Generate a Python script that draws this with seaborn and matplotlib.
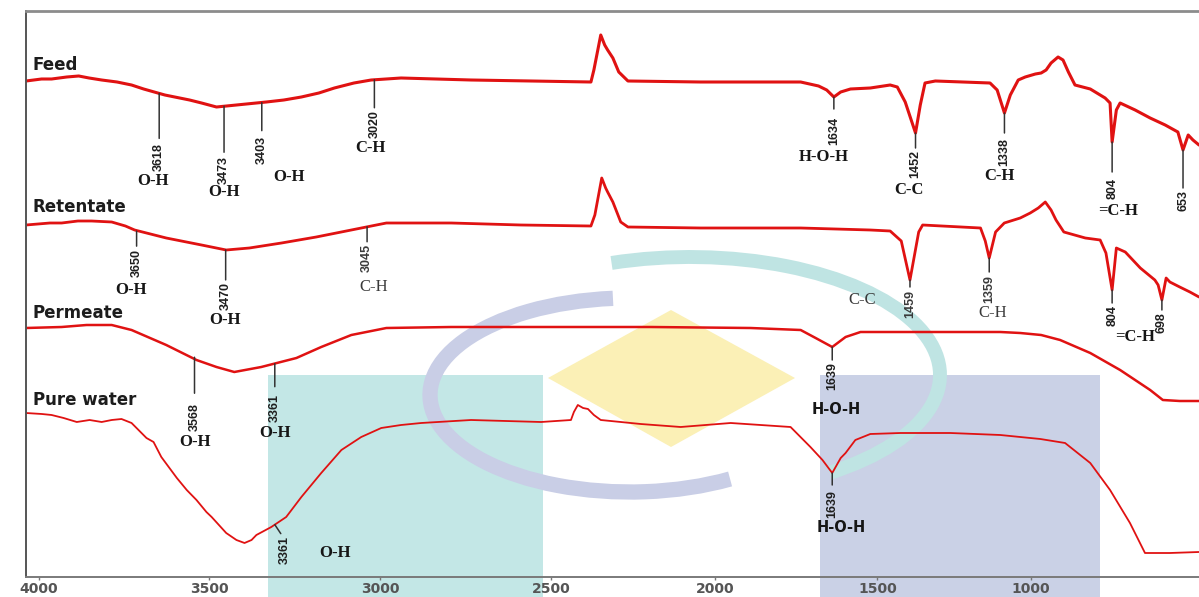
import numpy as np
import matplotlib
matplotlib.use("Agg")
import matplotlib.pyplot as plt
import seaborn as sns
from matplotlib.patches import Rectangle, Polygon, Arc

# ---------------------------------------------------------------------------
# FTIR spectra: wavenumber (cm-1) and stacked relative transmittance (a.u.)
# ---------------------------------------------------------------------------
feed_wn = [4032, 3990, 3954, 3900, 3857, 3820, 3775, 3720, 3668, 3640, 3610, 3575,
           3536, 3487, 3450, 3390, 3330, 3270, 3210, 3157, 3090, 3031, 2939, 2734,
           2558, 2378, 2369, 2348, 2336, 2327, 2311, 2293, 2265, 2043, 1850, 1736,
           1681, 1656, 1634, 1613, 1583, 1522, 1484, 1475, 1465, 1452, 1446, 1440,
           1427, 1358, 1349, 1338, 1264, 1164, 1076, 990, 976, 964, 952, 935, 923,
           910, 894, 857, 821, 809, 804, 795, 787, 755, 723, 691, 664, 653, 641,
           630, 616]
feed_t = [99.2, 99.6, 99.6, 100.0, 100.2, 99.8, 99.4, 99.0, 98.4, 97.6, 96.4, 95.4,
          94.8, 94.0, 94.4, 95.0, 95.4, 96.0, 96.8, 97.8, 98.8, 99.4, 99.8, 99.4,
          99.2, 99.0, 101.4, 108.4, 106.4, 105.4, 103.8, 101.0, 99.2, 99.0, 99.0, 99.0,
          98.2, 97.4, 96.0, 97.0, 97.6, 97.8, 98.4, 98.0, 95.0, 88.8, 94.4, 98.8,
          99.2, 98.8, 97.4, 92.8, 96.4, 99.4, 100.0, 100.6, 100.8, 101.4, 102.8, 104.0, 103.4,
          101.0, 98.4, 97.6, 95.8, 94.8, 87.0, 93.4, 94.8, 93.4, 91.8, 90.4, 89.0, 85.4, 88.4,
          87.4, 86.4]

retentate_wn = [4032, 3960, 3918, 3860, 3811, 3739, 3690, 3657, 3608, 3536, 3469, 3426,
                3338, 3219, 3099, 2982, 2792, 2588, 2378, 2366, 2345, 2333, 2327, 2311,
                2287, 2265, 2043, 1736, 1522, 1484, 1470, 1459, 1448, 1443, 1370, 1364,
                1359, 1351, 1340, 1139, 1013, 983, 966, 952, 940, 921, 869, 833, 819,
                804, 795, 776, 744, 713, 706, 698, 689, 681, 660, 637, 616]
retentate_t = [70.4, 70.8, 70.8, 71.2, 71.2, 71.0, 70.2, 69.4, 67.8, 66.4, 65.4, 65.8,
               66.8, 68.0, 69.4, 70.8, 70.8, 70.4, 70.2, 72.4, 79.8, 77.8, 77.0, 75.0,
               71.0, 70.0, 69.8, 69.8, 69.4, 69.2, 67.2, 59.4, 69.0, 70.4, 69.8, 67.2,
               63.8, 69.0, 70.8, 71.8, 72.8, 73.8, 75.0, 73.4, 71.4, 69.0, 67.8, 67.4, 64.8,
               57.4, 65.8, 65.0, 61.8, 59.4, 58.4, 55.4, 59.8, 59.0, 58.0, 57.0, 56.0]

permeate_wn = [4032, 3918, 3829, 3739, 3668, 3608, 3559, 3487, 3454, 3404, 3287, 3202,
               3099, 2982, 2792, 2500, 2195, 1890, 1736, 1690, 1639, 1598, 1552, 1471,
               1345, 1139, 976, 930, 857, 787, 723, 696, 660, 616]
permeate_t = [49.8, 50.0, 50.4, 50.4, 49.4, 46.4, 43.4, 42.0, 41.0, 42.0, 43.8, 46.0,
              48.4, 49.8, 50.0, 50.0, 50.0, 49.8, 49.4, 47.8, 46.0, 48.0, 49.0, 49.0,
              49.0, 48.8, 48.4, 47.4, 44.8, 41.4, 37.4, 35.4, 35.2, 35.2]

water_wn = [4032, 3989, 3954, 3911, 3864, 3818, 3775, 3739, 3704, 3668, 3636, 3626,
            3615, 3593, 3579, 3559, 3514, 3496, 3469, 3450, 3435, 3422, 3413, 3373,
            3322, 3270, 3202, 3133, 3065, 2997, 2939, 2880, 2734, 2529, 2439, 2430,
            2418, 2402, 2387, 2369, 2348, 2226, 2104, 1951, 1767, 1706, 1669, 1639,
            1613, 1598, 1568, 1522, 1471, 1408, 1345, 1139, 978, 918, 857, 809, 766,
            734, 681, 616]
water_t = [32.8, 32.6, 32.4, 31.8, 31.0, 31.4, 31.0, 31.4, 31.6, 30.8, 27.8, 27.0,
           24.0, 19.8, 17.4, 15.4, 13.0, 12.0, 8.8, 7.4, 6.8, 7.4, 8.4, 10.0,
           12.0, 16.0, 20.8, 25.4, 28.0, 29.8, 30.4, 30.8, 31.4, 31.0, 31.4, 33.0,
           34.4, 33.8, 33.6, 32.4, 31.4, 30.6, 30.0, 30.8, 30.0, 26.0, 23.4, 20.8,
           23.8, 24.8, 27.4, 28.6, 28.8, 28.8, 28.4, 28.0, 27.6, 26.8, 22.8, 17.4, 10.8,
           4.8, 4.8, 5.0]

# assigned bands (wavenumber, functional group)
feed_bands = [3618, 3473, 3403, 3020, 1634, 1452, 1338, 804, 653]
feed_groups = ["O-H", "O-H", "O-H", "C-H", "H-O-H", "C-C", "C-H", "=C-H", None]
retentate_bands = [3650, 3470, 3045, 1459, 1359, 804, 698]
retentate_groups = ["O-H", "O-H", "C-H", "C-C", "C-H", "=C-H", None]
permeate_bands = [3568, 3361, 1639]
permeate_groups = ["O-H", "O-H", "H-O-H"]
water_bands = [3361, 1639]
water_groups = ["O-H", "H-O-H"]

series_names = ["Feed", "Retentate", "Permeate", "Pure water"]
tick_wn = [4000, 3500, 3000, 2500, 2000, 1500, 1000]
tick_labels = ["4000", "3500", "3000", "2500", "2000", "1500", "1000"]

# ---------------------------------------------------------------------------
# axis calibration: wavenumber -> position along the x axis (pixels from left)
# ---------------------------------------------------------------------------
cal_wn = np.array([450, 653, 804, 1000, 1340, 1500, 2000, 2500, 3000, 3400, 3500,
                   3568, 3650, 4000, 4200], dtype=float)
cal_pos = np.array([1244.8, 1157, 1086, 1005, 978, 851, 688, 524, 353, 236, 182,
                    167, 109, 11, -68.75])
cal_u = -cal_pos  # increasing with wavenumber


def wn_forward(w):
    return np.interp(np.asarray(w, dtype=float), cal_wn, cal_u)


def wn_inverse(u):
    return np.interp(np.asarray(u, dtype=float), cal_u, cal_wn)


RED = "#e01212"

sns.set_theme(style="white")
plt.rcParams["font.family"] = ["DejaVu Sans"]

fig = plt.figure(figsize=(11.99, 5.97), dpi=100)

# background decoration layer (pixel coordinates)
deco = fig.add_axes([0, 0, 1, 1], zorder=0)
deco.set_xlim(0, 1199)
deco.set_ylim(597, 0)
deco.axis("off")
deco.add_patch(Rectangle((268, 375), 275, 222, facecolor="#c3e7e6", lw=0))
deco.add_patch(Rectangle((820, 375), 280, 222, facecolor="#cad1e6", lw=0))
deco.add_patch(Polygon([(548, 378), (671, 310), (795, 378), (671, 447)],
                       closed=True, facecolor="#fbf0b6", lw=0))
deco.add_patch(Arc((690, 375), 500, 236, theta1=-125, theta2=35,
                   color="#bfe4e3", lw=10))
deco.add_patch(Arc((630, 395), 400, 194, theta1=40, theta2=260,
                   color="#c9cee6", lw=11))

ax = fig.add_axes([26 / 1199, 20 / 597, 1173 / 1199, 566 / 597], zorder=1)
ax.patch.set_alpha(0)

spectra = [
    (feed_wn, feed_t, 2.2),
    (retentate_wn, retentate_t, 2.0),
    (permeate_wn, permeate_t, 1.8),
    (water_wn, water_t, 1.3),
]
for wn, t, lw in spectra:
    sns.lineplot(x=wn, y=t, ax=ax, color=RED, lw=lw, estimator=None, sort=False)

ax.set_xscale("function", functions=(wn_forward, wn_inverse))
ax.set_xlim(4032, 616)
ax.set_ylim(0, 113.2)
ax.set_xticks(tick_wn, labels=tick_labels)
ax.set_yticks([])
ax.set_xlabel("")
ax.set_ylabel("")
ax.tick_params(axis="x", bottom=True, labelsize=10, labelcolor="#555555",
               color="#777777", length=2.5, width=1, direction="out", pad=1)
for lbl in ax.get_xticklabels():
    lbl.set_fontweight("bold")

ax.spines["right"].set_visible(False)
ax.spines["left"].set_color("#555555")
ax.spines["left"].set_linewidth(1.4)
ax.spines["top"].set_color("#8c8c8c")
ax.spines["top"].set_linewidth(2.0)
ax.spines["bottom"].set_color("#7a7a7a")
ax.spines["bottom"].set_linewidth(1.4)

# series names
name_rows = [65, 207, 313, 400]
for name, row in zip(series_names, name_rows):
    fig.text(33 / 1199, 1 - row / 597, name, fontsize=12, fontweight="bold",
             color="#1c1c1c", va="center", ha="left")


def band_label(wn_arr, t_arr, band, group, stem, gap, gdx, gdy,
               stem_dx=0, num_dx=0, group_family="Liberation Serif",
               group_weight="bold", group_color="#161616", num_color="#1e1e1e",
               group_size=12):
    x = np.asarray(wn_arr, dtype=float)[::-1]
    y = np.asarray(t_arr, dtype=float)[::-1]
    y0 = np.interp(band, x, y)
    ax.annotate("", xy=(band, y0), xytext=(stem_dx, -stem),
                textcoords="offset pixels",
                arrowprops=dict(arrowstyle="-", color="#333333", lw=1.1,
                                shrinkA=0, shrinkB=0))
    ax.annotate(f"{band}", xy=(band, y0), xytext=(num_dx, -(stem + gap)),
                textcoords="offset pixels", rotation=90, ha="center", va="top",
                fontsize=9, fontweight="bold", family="Liberation Sans",
                color=num_color)
    if group:
        ax.annotate(group, xy=(band, y0), xytext=(gdx, -gdy),
                    textcoords="offset pixels", ha="center", va="center",
                    fontsize=group_size, fontweight=group_weight,
                    family=group_family, color=group_color)


# feed
feed_layout = [(45, 5, -6, 88), (46, 4, 0, 86), (28, 5, 27, 74), (28, 2, -4, 68),
               (12, 8, -10, 60), (15, 2, -7, 57), (20, 5, -5, 63), (30, 6, 6, 69),
               (38, 2, 0, 0)]
for band, group, (s, g, dx, dy) in zip(feed_bands, feed_groups, feed_layout):
    band_label(feed_wn, feed_t, band, group, s, g, dx, dy)

# retentate
ret_layout = [(15, 3, -6, 59), (30, 2, -1, 70), (15, 2, 7, 60), (7, 3, -48, 20),
              (14, 3, 3, 55), (13, 2, 23, 47), (10, 2, 0, 0)]
for band, group, (s, g, dx, dy) in zip(retentate_bands, retentate_groups, ret_layout):
    light = band in (3045, 1459, 1359)
    band_label(retentate_wn, retentate_t, band, group, s, g, dx, dy,
               group_weight="normal" if light else "bold",
               group_color="#3a3a3a" if light else "#161616",
               num_color="#3a3a3a" if light else "#1e1e1e")

# permeate
perm_layout = [(36, 10, 0, 85), (23, 7, 0, 69), (13, 2, 4, 62)]
for band, group, (s, g, dx, dy) in zip(permeate_bands, permeate_groups, perm_layout):
    sans = group == "H-O-H"
    band_label(permeate_wn, permeate_t, band, group, s, g, dx, dy,
               group_family="DejaVu Sans" if sans else "Liberation Serif",
               group_size=10.5 if sans else 12)

# pure water
band_label(water_wn, water_t, water_bands[0], water_groups[0], 9, 2, 60, 28,
           stem_dx=6, num_dx=10)
band_label(water_wn, water_t, water_bands[1], water_groups[1], 12, 5, 9, 54,
           group_family="DejaVu Sans", group_size=10.5)

fig.savefig("out.png", dpi=100)
